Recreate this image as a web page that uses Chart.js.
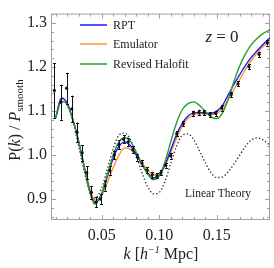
<!DOCTYPE html>
<html><head><meta charset="utf-8">
<script src="https://cdn.jsdelivr.net/npm/chart.js@4/dist/chart.umd.min.js"></script>
<style>html,body{margin:0;padding:0;background:#fff;}#wrap{width:274px;height:268px;}</style>
</head><body><div id="wrap"><canvas id="c" width="274" height="268"></canvas></div>
<script>
const curveK = [0.010,0.015,0.020,0.025,0.030,0.035,0.040,0.044,0.050,0.055,0.060,0.065,0.070,0.075,0.080,0.085,0.090,0.095,0.100,0.105,0.110,0.115,0.120,0.125,0.130,0.135,0.140,0.145,0.150,0.155,0.160,0.165,0.170,0.175,0.180,0.185,0.190,0.195,0.197];
const rpt = [1.085,1.130,1.118,1.080,1.030,0.970,0.915,0.893,0.912,0.952,0.993,1.020,1.030,1.021,1.001,0.979,0.959,0.948,0.954,0.978,1.012,1.046,1.072,1.089,1.096,1.097,1.095,1.095,1.100,1.113,1.137,1.161,1.183,1.204,1.222,1.237,1.251,1.264,1.268];
const emulator = [1.085,1.128,1.117,1.080,1.031,0.973,0.921,0.898,0.908,0.938,0.972,1.000,1.016,1.013,0.999,0.982,0.966,0.956,0.958,0.976,1.005,1.038,1.066,1.083,1.091,1.094,1.093,1.092,1.095,1.106,1.126,1.149,1.172,1.195,1.215,1.232,1.246,1.257,1.261];
const halofit = [1.085,1.122,1.114,1.079,1.030,0.970,0.912,0.888,0.913,0.957,1.000,1.030,1.040,1.031,1.007,0.980,0.957,0.944,0.952,0.985,1.030,1.073,1.103,1.117,1.121,1.113,1.099,1.087,1.083,1.096,1.127,1.168,1.203,1.230,1.251,1.265,1.276,1.283,1.285];
const linearTheory = [1.085,1.128,1.115,1.075,1.020,0.960,0.915,0.902,0.925,0.970,1.015,1.045,1.050,1.035,1.000,0.960,0.928,0.912,0.915,0.940,0.980,1.020,1.045,1.048,1.035,1.010,0.983,0.960,0.949,0.950,0.962,0.980,1.000,1.020,1.034,1.039,1.035,1.025,1.020];
const simK = [0.0088,0.0145,0.0195,0.0240,0.0285,0.0330,0.0370,0.0410,0.0450,0.0490,0.0530,0.0570,0.0610,0.0650,0.0690,0.0730,0.0770,0.0810,0.0850,0.0895,0.0940,0.0980,0.1015,0.1056,0.1100,0.1152,0.1210,0.1297,0.1346,0.1390,0.1442,0.1490,0.1543,0.1627,0.1685,0.1780,0.1868,0.1940];
const simV = [1.147,1.120,1.152,1.105,1.052,1.005,0.960,0.915,0.893,0.900,0.930,0.965,1.000,1.024,1.036,1.030,1.012,0.995,0.982,0.966,0.955,0.953,0.960,0.977,0.998,1.049,1.071,1.095,1.097,1.097,1.092,1.095,1.107,1.138,1.162,1.201,1.229,1.255];
const simErr = [0.062,0.040,0.035,0.030,0.022,0.018,0.015,0.014,0.012,0.012,0.011,0.010,0.010,0.010,0.009,0.009,0.008,0.008,0.007,0.007,0.007,0.006,0.006,0.006,0.006,0.006,0.006,0.006,0.006,0.006,0.006,0.006,0.006,0.006,0.006,0.006,0.006,0.006];
const xTicks = [0.05,0.10,0.15];
const yTicks = [0.9,1.0,1.1,1.2,1.3];
const seriesNames = ['RPT','Emulator','Revised Halofit'];
const SERIF = '"Liberation Serif","DejaVu Serif",serif';
const colors = {rpt:'#1a1aff', emu:'#ff9233', halo:'#2a9d2a'};

function pts(ys){return curveK.map((k,i)=>({x:k,y:ys[i]}));}

function drawRich(ctx, segs, x, y){
  let w=0; segs.forEach(s=>{ctx.font=s.font; s.w=ctx.measureText(s.t).width; w+=s.w;});
  let cx=x-w/2;
  ctx.textAlign='left';
  segs.forEach(s=>{ctx.font=s.font; ctx.fillText(s.t,cx,y+(s.dy||0)); cx+=s.w;});
}

const decor = {
  id:'decor',
  beforeDatasetsDraw(chart){
    const {ctx, chartArea:a, scales:{x,y}} = chart;
    ctx.save();
    ctx.strokeStyle='#a0a0a0'; ctx.lineWidth=1;
    const L=(x1,y1,x2,y2)=>{ctx.beginPath();ctx.moveTo(x1,y1);ctx.lineTo(x2,y2);ctx.stroke();};
    for(let i=1;i<=19;i++){
      const px=Math.round(x.getPixelForValue(i/100))+0.5; const len=(i%5===0)?5:3;
      L(px,a.bottom,px,a.bottom-len); L(px,a.top,px,a.top+len);
    }
    for(let i=86;i<=132;i+=2){
      const py=Math.round(y.getPixelForValue(i/100))+0.5; const len=(i%10===0)?5:3;
      L(a.left,py,a.left+len,py); L(a.right,py,a.right-len,py);
    }
    ctx.strokeRect(a.left+0.5,a.top+0.5,a.right-a.left-1,a.bottom-a.top-1);
    ctx.restore();
  },
  afterDatasetsDraw(chart){
    const {ctx, chartArea:a, scales:{x,y}} = chart;
    ctx.save();
    ctx.strokeStyle='#111'; ctx.lineWidth=1;
    simK.forEach((k,i)=>{
      const px=Math.round(x.getPixelForValue(k))+0.5;
      const t=y.getPixelForValue(simV[i]+simErr[i]), b=y.getPixelForValue(simV[i]-simErr[i]);
      ctx.beginPath(); ctx.moveTo(px,t); ctx.lineTo(px,b);
      ctx.moveTo(px-1.5,Math.round(t)+0.5); ctx.lineTo(px+1.5,Math.round(t)+0.5);
      ctx.moveTo(px-1.5,Math.round(b)+0.5); ctx.lineTo(px+1.5,Math.round(b)+0.5);
      ctx.stroke();
    });
    // legend
    const lc=[colors.rpt,colors.emu,colors.halo]; const ly=[25,44,64];
    ctx.lineWidth=1.5;
    seriesNames.forEach((n,i)=>{
      ctx.strokeStyle=lc[i]; ctx.beginPath(); ctx.moveTo(80,ly[i]); ctx.lineTo(107,ly[i]); ctx.stroke();
      ctx.fillStyle='#222'; ctx.font='12px '+SERIF; ctx.textBaseline='middle'; ctx.textAlign='left'; ctx.fillText(n,113,ly[i]+0.5);
    });
    ctx.textBaseline='alphabetic'; ctx.fillStyle='#222';
    drawRich(ctx,[{t:'z',font:'italic 17px '+SERIF},{t:' = 0',font:'17px '+SERIF}],222,42);
    drawRich(ctx,[{t:'Linear Theory',font:'11.5px '+SERIF}],218,197);
    // x title
    drawRich(ctx,[{t:'k',font:'italic 16px '+SERIF},{t:' [',font:'16px '+SERIF},{t:'h',font:'italic 16px '+SERIF},{t:'−1',font:'italic 10px '+SERIF,dy:-6},{t:' Mpc]',font:'16px '+SERIF}],161,259);
    // y title
    ctx.translate(20,120); ctx.rotate(-Math.PI/2);
    drawRich(ctx,[{t:'P(',font:'16px '+SERIF},{t:'k',font:'italic 16px '+SERIF},{t:') / ',font:'16px '+SERIF},{t:'P',font:'italic 16px '+SERIF},{t:'smooth',font:'11px '+SERIF,dy:3}],0,0);
    ctx.restore();
  }
};

new Chart(document.getElementById('c'),{
  type:'scatter',
  data:{datasets:[
    {label:'sim',data:simK.map((k,i)=>({x:k,y:simV[i]})),showLine:false,pointRadius:1.6,pointBackgroundColor:'#111',pointBorderWidth:0,order:0},
    {label:seriesNames[2],data:pts(halofit),showLine:true,borderColor:colors.halo,borderWidth:1.4,pointRadius:0,cubicInterpolationMode:'monotone',order:1},
    {label:seriesNames[0],data:pts(rpt),showLine:true,borderColor:colors.rpt,borderWidth:1.4,pointRadius:0,cubicInterpolationMode:'monotone',order:2},
    {label:seriesNames[1],data:pts(emulator),showLine:true,borderColor:colors.emu,borderWidth:1.4,pointRadius:0,cubicInterpolationMode:'monotone',order:3},
    {label:'Linear Theory',data:pts(linearTheory),showLine:true,borderColor:'#222',borderWidth:1.3,borderDash:[1.3,2.2],pointRadius:0,cubicInterpolationMode:'monotone',order:4}
  ]},
  options:{
    responsive:false,animation:false,devicePixelRatio:1,
    layout:{padding:{left:0,right:4,top:3,bottom:0}},
    plugins:{legend:{display:false},tooltip:{enabled:false}},
    scales:{
      x:{type:'linear',min:0.0059,max:0.1963,grid:{display:false,drawTicks:false},border:{display:false},
         afterBuildTicks:s=>{s.ticks=xTicks.map(v=>({value:v}));},
         afterFit:s=>{s.height=48;},
         ticks:{padding:6,color:'#222',font:{family:SERIF,size:16},callback:v=>v.toFixed(2),maxRotation:0}},
      y:{type:'linear',min:0.8524,max:1.3216,grid:{display:false,drawTicks:false},border:{display:false},
         afterBuildTicks:s=>{s.ticks=yTicks.map(v=>({value:v}));},
         afterFit:s=>{s.width=51;},
         ticks:{padding:4,color:'#222',font:{family:SERIF,size:16},callback:v=>v.toFixed(1)}}
    }
  },
  plugins:[decor]
});
</script></body></html>
